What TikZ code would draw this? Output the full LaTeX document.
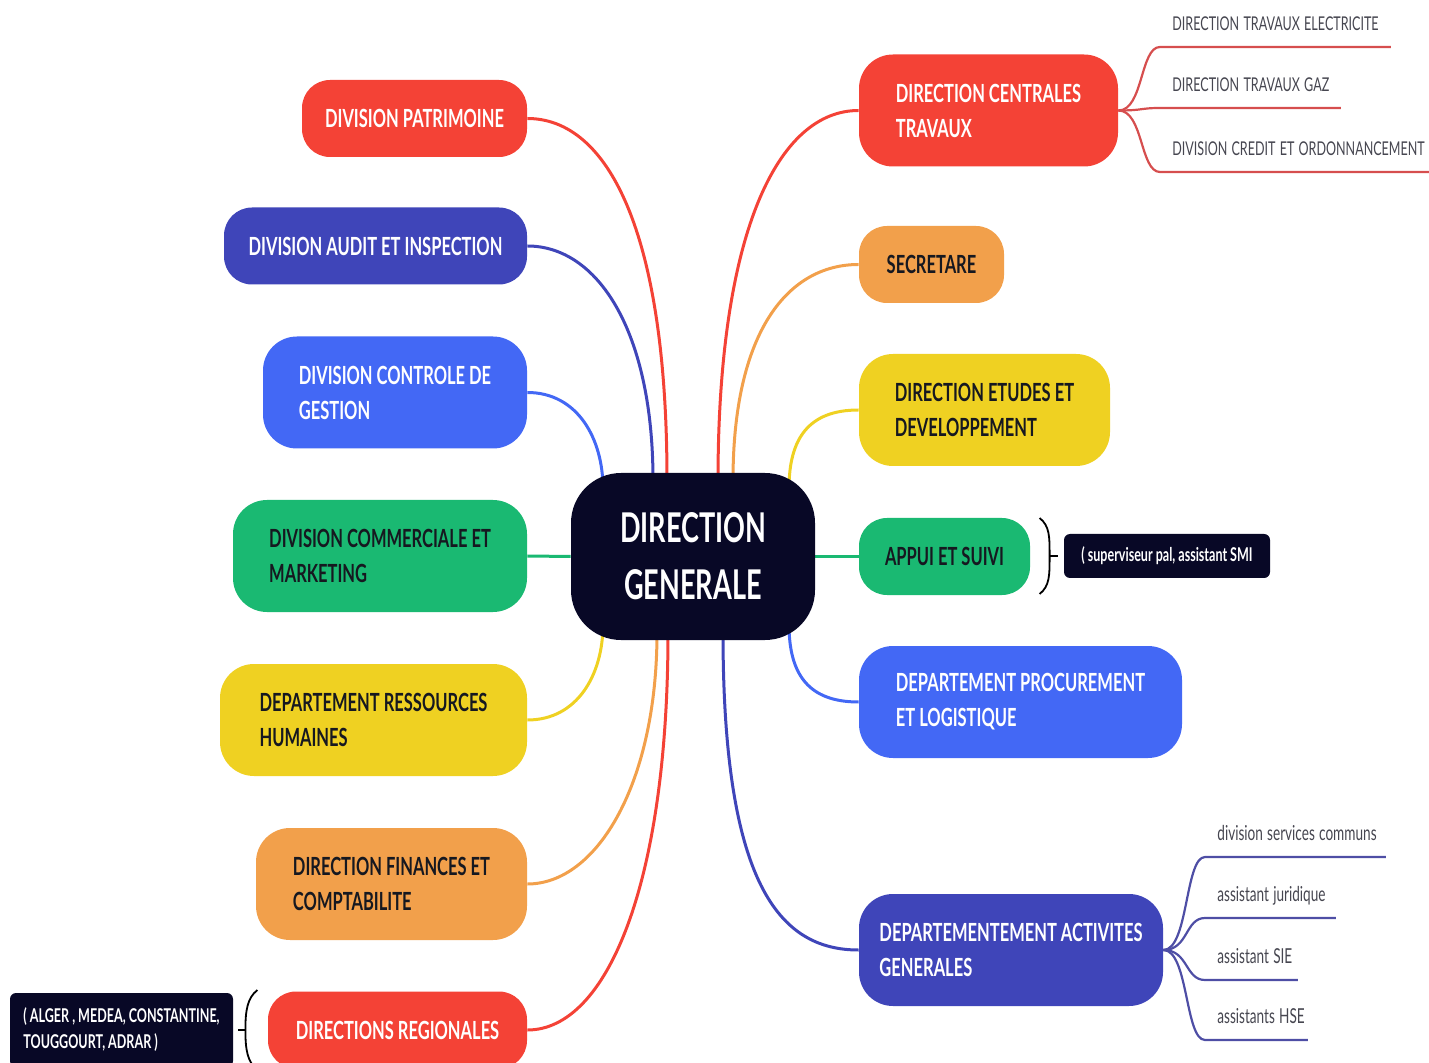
\documentclass[tikz,border=0pt]{standalone}
\usepackage{fontspec}
\setmainfont{Lato}[FakeStretch=0.66]
\usepackage{tikz}
\usetikzlibrary{calc,backgrounds}
\definecolor{mapred}{RGB}{244,66,54}
\definecolor{mapindigo}{RGB}{63,69,185}
\definecolor{mapblue}{RGB}{67,104,245}
\definecolor{mapgreen}{RGB}{26,185,114}
\definecolor{mapyellow}{RGB}{239,209,34}
\definecolor{maporange}{RGB}{242,160,75}
\definecolor{mapnavy}{RGB}{8,8,38}
\definecolor{inkdark}{RGB}{22,24,32}
\definecolor{leafgray}{RGB}{70,70,80}
\definecolor{leafred}{RGB}{214,78,78}
\definecolor{leafindigo}{RGB}{78,78,165}
\newcommand\leaftext[1]{\spaceskip=2.1pt plus 0.5pt\relax\mbox{#1}}

\tikzset{
  topic/.style={fill=#1, rounded corners=14pt, minimum height=38.5pt, inner sep=0pt,
    text=white, align=left, font=\bfseries\fontsize{12.5}{17.5}\selectfont},
  twoline/.style={minimum height=56pt, rounded corners=17pt},
  darktext/.style={text=inkdark},
  link/.style={draw=#1, line width=1.5pt},
  leaf/.style={anchor=south west, text width=#1, inner xsep=6pt, inner ysep=8pt,
    text depth=0pt, align=left, text=leafgray, font=\fontsize{9.5}{12}\selectfont},
  sublink/.style={draw=#1, line width=1.1pt},
  note/.style={fill=mapnavy, text=white, rounded corners=3pt, inner sep=0pt,
    align=left, font=\bfseries\fontsize{9.5}{13}\selectfont},
  brk/.style={draw=black, line width=0.9pt}
}

\begin{document}
\begin{tikzpicture}[x=0.5pt,y=-0.5pt]
  \useasboundingbox (0,0) rectangle (1429,1063);

  \node[fill=mapnavy, rounded corners=25pt, minimum width=122pt, minimum height=83.5pt,
    text=white, align=center, font=\bfseries\fontsize{20.5}{28.5}\selectfont]
    (dg) at (693,556.5) {DIRECTION\\GENERALE};

  \node[topic=mapred, minimum width=112.5pt] (pat) at (414.5,118.5) {DIVISION PATRIMOINE};
  \node[topic=mapindigo, minimum width=151.5pt] (aud) at (375.5,246) {DIVISION AUDIT ET INSPECTION};
  \node[topic=mapblue, twoline, minimum width=132pt] (ctl) at (395,392.5) {DIVISION CONTROLE DE\\GESTION};
  \node[topic=mapgreen, twoline, darktext, minimum width=147pt] (com) at (380,556) {DIVISION COMMERCIALE ET\\MARKETING};
  \node[topic=mapyellow, twoline, darktext, minimum width=153.5pt] (rh) at (373.5,720) {DEPARTEMENT RESSOURCES\\HUMAINES};
  \node[topic=maporange, twoline, darktext, minimum width=135.5pt] (fin) at (391.5,884) {DIRECTION FINANCES ET\\COMPTABILITE};
  \node[topic=mapred, minimum width=129.5pt] (reg) at (397.5,1030) {DIRECTIONS REGIONALES};

  \node[topic=mapred, twoline, minimum width=129.5pt] (ct) at (988.5,110.5) {DIRECTION CENTRALES\\TRAVAUX};
  \node[topic=maporange, darktext, minimum width=72.5pt] (sec) at (931.5,264.5) {SECRETARE};
  \node[topic=mapyellow, twoline, darktext, minimum width=125.5pt] (etu) at (984.5,410) {DIRECTION ETUDES ET\\DEVELOPPEMENT};
  \node[topic=mapgreen, darktext, minimum width=85.5pt] (app) at (944.5,556.5) {APPUI ET SUIVI};
  \node[topic=mapblue, twoline, minimum width=161.5pt] (pro) at (1020.5,702) {DEPARTEMENT PROCUREMENT\\ET LOGISTIQUE};
  \node[topic=mapindigo, twoline, minimum width=152pt] (act) at (1011,950) {DEPARTEMENTEMENT ACTIVITES\\GENERALES};

  \node[note, minimum width=103pt, minimum height=22pt] (noteapp) at (1167,556) {( superviseur pal, assistant SMI};
  \node[note, minimum width=111.5pt, minimum height=37pt] (notereg) at (121.5,1030) {( ALGER , MEDEA, CONSTANTINE,\\TOUGGOURT, ADRAR )};

  \begin{scope}[on background layer]
    \draw[link=mapred] (pat.east) .. controls +(80,0) and +(0,-250) .. ($(dg.center)+(-26,-76)$);
    \draw[link=mapindigo] (aud.east) .. controls +(70,0) and +(0,-150) .. ($(dg.center)+(-40,-76)$);
    \draw[link=mapblue] (ctl.east) .. controls +(50,0) and +(0,-50) .. ($(dg.center)+(-90,-68)$);
    \draw[link=mapgreen] (com.east) -- (dg.west);
    \draw[link=mapyellow] (rh.east) .. controls +(50,0) and +(0,50) .. ($(dg.center)+(-90,68)$);
    \draw[link=maporange] (fin.east) .. controls +(70,0) and +(0,150) .. ($(dg.center)+(-36,76)$);
    \draw[link=mapred] (reg.east) .. controls +(80,0) and +(0,250) .. ($(dg.center)+(-25,76)$);

    \draw[link=mapred] (ct.west) .. controls +(-80,0) and +(0,-250) .. ($(dg.center)+(25,-76)$);
    \draw[link=maporange] (sec.west) .. controls +(-70,0) and +(0,-150) .. ($(dg.center)+(40,-76)$);
    \draw[link=mapyellow] (etu.west) .. controls +(-50,0) and +(0,-50) .. ($(dg.center)+(96,-68)$);
    \draw[link=mapgreen] (app.west) -- (dg.east);
    \draw[link=mapblue] (pro.west) .. controls +(-50,0) and +(0,50) .. ($(dg.center)+(96,68)$);
    \draw[link=mapindigo] (act.west) .. controls +(-80,0) and +(0,250) .. ($(dg.center)+(30,76)$);
  \end{scope}

  \foreach \n/\y/\w/\t in {e1/47/103pt/DIRECTION TRAVAUX ELECTRICITE,
      e2/108/78pt/DIRECTION TRAVAUX GAZ,
      e3/172/122.5pt/DIVISION CREDIT ET ORDONNANCEMENT}{
    \node[leaf=\w] (\n) at (1160,\y) {\leaftext{\t}};
    \draw[sublink=leafred] (ct.east) .. controls +(25,0) and +(-20,0) .. (\n.south west) -- (\n.south east);
  }
  \foreach \n/\y/\w/\t in {a1/857/78pt/division services communs,
      a2/918/53pt/assistant juridique,
      a3/980/34pt/assistant SIE,
      a4/1040/39pt/assistants HSE}{
    \node[leaf=\w, font=\fontsize{10.3}{12}\selectfont] (\n) at (1205,\y) {\leaftext{\t}};
    \draw[sublink=leafindigo] (act.east) .. controls +(25,0) and +(-20,0) .. (\n.south west) -- (\n.south east);
  }

  \draw[brk] ($(noteapp.west)+(-24,-38)$) .. controls +(10,8) and +(0,-20) .. ($(noteapp.west)+(-14,0)$)
    .. controls +(0,20) and +(10,-8) .. ($(noteapp.west)+(-24,38)$);
  \draw[brk] ($(noteapp.west)+(-14,0)$) -- ($(noteapp.west)+(-6,0)$);
  \draw[brk] ($(notereg.east)+(24,-40)$) .. controls +(-10,8) and +(0,-20) .. ($(notereg.east)+(12,0)$)
    .. controls +(0,20) and +(-10,-8) .. ($(notereg.east)+(24,40)$);
  \draw[brk] ($(notereg.east)+(5,0)$) -- ($(notereg.east)+(12,0)$);
\end{tikzpicture}
\end{document}
